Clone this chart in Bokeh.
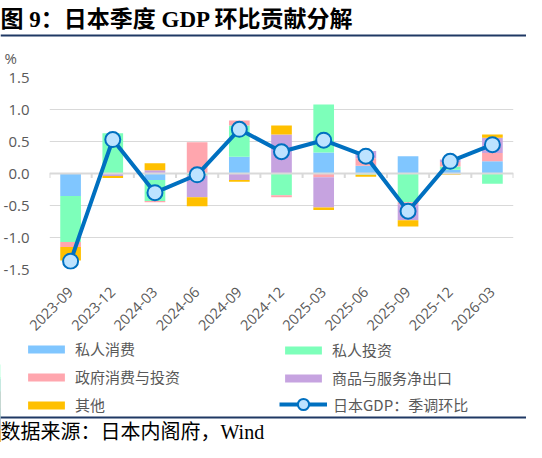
import math
from bokeh.plotting import figure
from bokeh.layouts import column
from bokeh.models import (Range1d, FixedTicker, NumeralTickFormatter, Legend,
                          LegendItem, Label, BoxAnnotation)
from bokeh.embed import file_html
from bokeh.resources import INLINE

quarters = ["2023-09", "2023-12", "2024-03", "2024-06", "2024-09", "2024-12",
            "2025-03", "2025-06", "2025-09", "2025-12", "2026-03"]
private_cons = [-0.35, 0.00, -0.10, 0.00, 0.26, 0.00, 0.33, 0.12, 0.27, 0.06, 0.19]
private_inv = [-0.72, 0.63, -0.33, -0.03, 0.49, -0.34, 0.75, -0.02, -0.45, 0.05, -0.16]
gov_spend = [-0.08, 0.00, -0.02, 0.49, 0.08, -0.03, -0.06, 0.12, -0.03, 0.07, 0.13]
net_exports = [0.00, -0.04, 0.05, -0.34, -0.10, 0.61, -0.47, 0.11, -0.25, 0.04, 0.24]
other = [-0.21, -0.03, 0.11, -0.14, -0.03, 0.14, -0.04, -0.03, -0.10, -0.02, 0.05]
gdp_qoq = [-1.37, 0.53, -0.30, -0.02, 0.69, 0.34, 0.52, 0.27, -0.59, 0.19, 0.45]
y_ticks = [-1.5, -1.0, -0.5, 0.0, 0.5, 1.0, 1.5]

names = ["私人消费", "私人投资", "政府消费与投资", "商品与服务净出口", "其他"]
gdp_name = "日本GDP：季调环比"
colors = ["#80C6FF", "#7DFFBA", "#FFA6AE", "#C6A3E0", "#FFC000"]
series = [private_cons, private_inv, gov_spend, net_exports, other]

TXT = "#595959"
NAVY = "#1F3864"
NUM_FONT = "Open Sans"
CJK_FONT = "Noto Sans CJK SC"
MIX_FONT = "Liberation Serif, Noto Sans CJK SC"
LINE_C = "#0070C0"
MARK_FILL = "#BDE3FF"

W = 526
n = len(quarters)
xs = list(range(n))


def blank_fig(h, xr=(0, 1)):
    f = figure(width=W, height=h, output_backend="svg", toolbar_location=None,
               x_axis_type=None, y_axis_type=None, title=None,
               x_range=Range1d(*xr), y_range=Range1d(0, 1), min_border=0)
    f.outline_line_color = None
    f.xgrid.visible = False
    f.ygrid.visible = False
    f.frame_align = False
    return f


def rule(f, y):
    f.add_layout(BoxAnnotation(left=0, right=W, bottom=y, top=y + 2,
                               left_units="screen", right_units="screen",
                               bottom_units="screen", top_units="screen",
                               fill_color=NAVY, fill_alpha=1, line_color=None))


# ---------- header ----------
TOP_H = 68
top = blank_fig(TOP_H)
top.add_layout(Label(x=0, y=49, x_units="screen", y_units="screen",
                     text="图 9：日本季度 GDP 环比贡献分解",
                     text_font=MIX_FONT, text_font_style="bold",
                     text_font_size="23px", text_color="#000000",
                     text_baseline="middle"))
rule(top, 32)
top.add_layout(Label(x=4, y=11, x_units="screen", y_units="screen", text="%",
                     text_font=NUM_FONT, text_font_size="15px", text_color=TXT,
                     text_baseline="middle"))

# ---------- main chart ----------
FL, FR, FT, FB = 42, 13, 9, 69
p = figure(width=W, height=FT + 192 + FB, output_backend="svg",
           toolbar_location=None, title=None,
           x_range=Range1d(-0.5, n - 0.5), y_range=Range1d(-1.5, 1.5),
           min_border_left=FL, min_border_right=FR, min_border_top=FT,
           min_border_bottom=FB)
p.outline_line_color = None
p.frame_align = False

p.xgrid.grid_line_color = None
p.ygrid.grid_line_color = "#D9D9D9"
p.ygrid.grid_line_width = 1
p.yaxis.ticker = FixedTicker(ticks=y_ticks)
p.yaxis.formatter = NumeralTickFormatter(format="0.0")
p.yaxis.axis_line_color = None
p.yaxis.major_tick_line_color = None
p.yaxis.minor_tick_line_color = None
p.yaxis.major_label_standoff = 14
p.yaxis.major_label_text_font = NUM_FONT
p.yaxis.major_label_text_font_size = "15px"
p.yaxis.major_label_text_color = TXT

p.xaxis.ticker = FixedTicker(ticks=xs)
p.xaxis.major_label_overrides = {i: q for i, q in enumerate(quarters)}
p.xaxis.major_label_orientation = math.pi / 4
p.xaxis.axis_line_color = None
p.xaxis.major_tick_line_color = None
p.xaxis.minor_tick_line_color = None
p.xaxis.major_label_standoff = 14
p.xaxis.major_label_text_font = NUM_FONT
p.xaxis.major_label_text_font_size = "14.5px"
p.xaxis.major_label_text_color = TXT

pos = [0.0] * n
neg = [0.0] * n
for vals, col in zip(series, colors):
    bot, tp = [], []
    for i, v in enumerate(vals):
        if v >= 0:
            bot.append(pos[i]); tp.append(pos[i] + v); pos[i] += v
        else:
            tp.append(neg[i]); bot.append(neg[i] + v); neg[i] += v
    p.vbar(x=xs, bottom=bot, top=tp, width=0.49, fill_color=col,
           line_color=None)

p.hspan(y=[0], line_color="#D9D9D9", line_width=2)
bounds = [i - 0.5 for i in range(n + 1)]
p.segment(x0=bounds, y0=[0] * len(bounds), x1=bounds, y1=[-0.07] * len(bounds),
          line_color="#D9D9D9", line_width=2)

p.line(xs, gdp_qoq, line_color=LINE_C, line_width=4)
p.scatter(xs, gdp_qoq, size=15, fill_color=MARK_FILL, line_color=LINE_C,
          line_width=2)

# ---------- legend + source ----------
BOT_H = 442 - 68 - (FT + 192 + FB)
# legend-only figure: its renderers reuse the series but sit outside its x range
bot_f = blank_fig(BOT_H, xr=(100, 101))
swatches = [bot_f.vbar(x=xs, top=vals, width=0.49, fill_color=c, line_color=None)
            for vals, c in zip(series, colors)]
gl = bot_f.line(x=xs, y=gdp_qoq, line_color=LINE_C, line_width=4)
gs = bot_f.scatter(x=xs, y=gdp_qoq, size=11, fill_color=MARK_FILL,
                   line_color=LINE_C, line_width=2)


def style_leg(leg, gh, gw=46):
    leg.glyph_width = gw
    leg.glyph_height = gh
    leg.label_standoff = 6
    leg.spacing = 7
    leg.padding = 0
    leg.margin = 0
    leg.border_line_color = None
    leg.background_fill_alpha = 0
    leg.label_text_font = CJK_FONT
    leg.label_text_font_size = "15px"
    leg.label_text_color = TXT
    leg.label_height = 20
    return leg


leg1 = style_leg(Legend(items=[LegendItem(label=names[0], renderers=[swatches[0]]),
                               LegendItem(label=names[2], renderers=[swatches[2]]),
                               LegendItem(label=names[4], renderers=[swatches[4]])],
                        location=(23, 27)), 10)
leg2 = style_leg(Legend(items=[LegendItem(label=names[1], renderers=[swatches[1]]),
                               LegendItem(label=names[3], renderers=[swatches[3]])],
                        location=(280, 54)), 10)
leg3 = style_leg(Legend(items=[LegendItem(label=gdp_name, renderers=[gl, gs])],
                        location=(279, 24)), 28, 48)
for lg in (leg1, leg2, leg3):
    bot_f.add_layout(lg)

rule(bot_f, 24)
bot_f.add_layout(Label(x=0, y=11, x_units="screen", y_units="screen",
                       text="数据来源：日本内阁府，Wind", text_font=MIX_FONT,
                       text_font_size="20px", text_color="#000000",
                       text_baseline="middle"))

layout = column(top, p, bot_f, spacing=0)
open("out.html", "w").write(file_html(layout, INLINE))
